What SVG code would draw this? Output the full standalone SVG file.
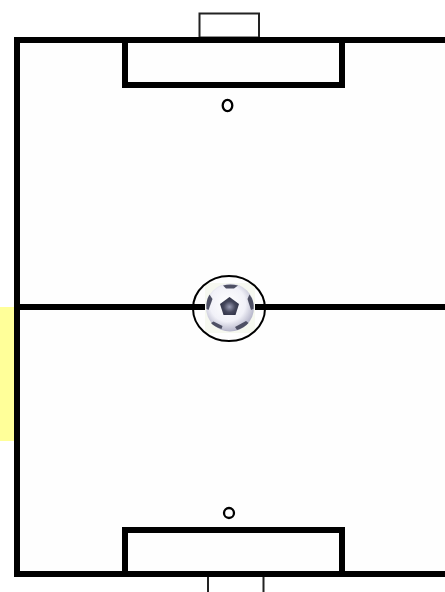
<svg xmlns="http://www.w3.org/2000/svg" width="445" height="592" viewBox="0 0 445 592">
<style>
.line{fill:none;stroke:#000;stroke-width:6}
.thin{fill:none;stroke:#000;stroke-width:2.300}
.goal{fill:#fff;stroke:#222;stroke-width:2}
.patch{fill:#4e5064}
</style>
<defs>
<radialGradient id="ballFill" cx="0.45" cy="0.42" r="0.62">
<stop offset="0" stop-color="#ffffff"/>
<stop offset="0.6" stop-color="#f1f1f8"/>
<stop offset="1" stop-color="#a9a9c0"/>
</radialGradient>
<radialGradient id="pent" cx="0.5" cy="0.55" r="0.55">
<stop offset="0" stop-color="#9a9cb4"/>
<stop offset="0.55" stop-color="#45475c"/>
<stop offset="1" stop-color="#2f3146"/>
</radialGradient>
</defs>
<rect width="445" height="592" fill="#fff"/>
<rect id="highlight" x="0" y="307" width="14" height="134" fill="#ffff99"/>
<rect id="field-surface" x="20" y="43" width="425" height="528" fill="#fefefe"/>
<g id="top-goal"><rect class="goal" x="199.500" y="13.500" width="59.500" height="24"/></g>
<g id="bottom-goal"><path d="M208 577V592M263.500 577V592" fill="none" stroke="#222" stroke-width="2"/></g>
<g id="pitch-lines">
<path class="line" d="M445 40H17V574H445"/>
<path class="line" d="M17 307H445"/>
</g>
<g id="top-box"><path class="line" d="M125 40V85H342V40"/></g>
<g id="bottom-box"><path class="line" d="M125 574V530H342V574"/></g>
<g id="top-spot"><ellipse class="thin" cx="227.500" cy="105.500" rx="4.800" ry="5.700"/></g>
<g id="bottom-spot"><circle class="thin" cx="229" cy="513" r="5"/></g>
<g id="ball-backing"><rect x="205" y="283" width="50" height="50" fill="#f6f8f0"/></g>
<g id="center-circle"><ellipse cx="229" cy="308.500" rx="36" ry="32.500" fill="none" stroke="#000" stroke-width="2"/></g>
<g id="ball">
<circle cx="230" cy="307.500" r="24" fill="url(#ballFill)"/>
<path d="M229.500 297L239 304L235.500 315H223.500L220 304Z" fill="url(#pent)"/>
<path class="patch" d="M223 285.500Q230 283.500 238 285.500L234 288.500H226Z"/>
<path class="patch" d="M209.500 294.500L212.500 299L208.500 310L206.500 309Q205.500 301 209.500 294.500Z"/>
<path class="patch" d="M249.500 294.500Q254.500 301 253.500 309L251 310L247.500 299Z"/>
<path class="patch" d="M213.500 321.500L222.500 326L221.500 329Q214 326.500 211 323Z"/>
<path class="patch" d="M246 321L248.500 323Q244 328 237 330L235 327Z"/>
</g>
</svg>
